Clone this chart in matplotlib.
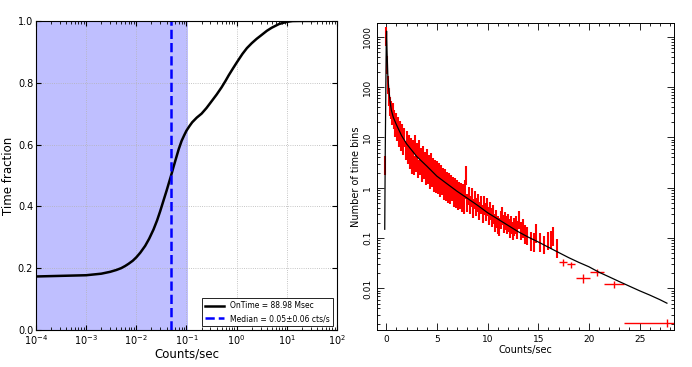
import numpy as np
import matplotlib
matplotlib.use("Agg")
import matplotlib.pyplot as plt
from matplotlib.ticker import FixedLocator, NullFormatter, LogLocator, MultipleLocator

# cumulative time fraction vs count rate (left panel)
cdf_rate = [1e-4, 1e-3, 2e-3, 3e-3, 4e-3, 5e-3, 6e-3, 7e-3, 8.5e-3, 1e-2, 1.2e-2, 1.5e-2,
            1.8e-2, 2.2e-2, 2.6e-2, 3e-2, 3.5e-2, 4e-2, 4.5e-2, 5e-2, 5.5e-2, 6e-2, 7e-2,
            8e-2, 9e-2, 0.1, 0.115, 0.13, 0.16, 0.2, 0.25, 0.3, 0.4, 0.5, 0.6, 0.7, 0.85,
            1.0, 1.3, 1.6, 2, 2.5, 3, 4, 5, 7, 10, 13, 20, 35]
cdf_frac = [0.173, 0.177, 0.182, 0.188, 0.194, 0.200, 0.207, 0.214, 0.224, 0.235, 0.25, 0.272,
            0.295, 0.325, 0.355, 0.385, 0.42, 0.45, 0.478, 0.503, 0.527, 0.548, 0.585,
            0.612, 0.63, 0.645, 0.66, 0.672, 0.687, 0.70, 0.718, 0.735, 0.762, 0.785, 0.806,
            0.825, 0.847, 0.865, 0.893, 0.912, 0.928, 0.942, 0.952, 0.968, 0.978, 0.99,
            0.997, 0.9995, 1.0, 1.0]
median_rate = 0.05
shade_max = 0.105
ontime_label = "OnTime = 88.98 Msec"
median_label = "Median = 0.05\u00b10.06 cts/s"

# histogram of rates (right panel)
hist_x = [-0.1, 0.0, 0.1, 0.2,
          0.3, 0.4, 0.5, 0.6, 0.7, 0.8, 0.9, 1.0, 1.1, 1.2, 1.3, 1.4, 1.5, 1.6, 1.7, 1.8,
          1.9, 2.0, 2.1, 2.2, 2.3, 2.4, 2.5, 2.6, 2.7, 2.8, 2.9, 3.0, 3.1, 3.2, 3.3, 3.4,
          3.5, 3.6, 3.7, 3.8, 3.9, 4.0, 4.1, 4.2, 4.3, 4.4, 4.5, 4.6, 4.7, 4.8, 4.9, 5.0,
          5.1, 5.2, 5.3, 5.4, 5.5, 5.6, 5.7, 5.8, 5.9, 6.0, 6.1, 6.2, 6.3, 6.4, 6.5, 6.6,
          6.7, 6.8, 6.9, 7.0, 7.1, 7.2, 7.3, 7.4, 7.5, 7.6, 7.7, 7.8, 7.9, 8.0,
          8.15, 8.3, 8.45, 8.6, 8.75, 8.9, 9.05, 9.2, 9.35, 9.5, 9.65, 9.8, 9.95, 10.1,
          10.25, 10.4, 10.55, 10.7, 10.85, 11.0, 11.15, 11.3, 11.45, 11.6, 11.75, 11.9,
          12.05, 12.2, 12.35, 12.5, 12.65, 12.8, 12.95, 13.1, 13.3, 13.5, 13.7, 13.9,
          14.3, 14.6, 14.8, 15.2, 15.6, 16.0, 16.3, 16.5, 16.9]
hist_y = [3.0, 1100, 300, 120,
          70, 45, 38, 30, 34, 25, 17, 22, 14, 18, 11, 15, 9, 13, 7.5, 11,
          6, 9.5, 5, 8, 4, 7, 3.2, 6.5, 3, 8, 3.5, 5.5, 2.6, 6.5, 3, 4.5,
          2.2, 4.8, 2.5, 3.6, 1.9, 4.2, 2.0, 3.2, 1.6, 3.5, 1.7, 2.8, 1.4, 2.6, 1.3, 2.4,
          1.25, 2.2, 1.1, 2.0, 1.2, 1.8, 0.95, 1.7, 0.9, 1.5, 0.85, 1.4, 0.8, 1.3, 0.9, 1.15,
          0.7, 1.1, 0.65, 1.0, 0.6, 0.95, 0.62, 0.9, 0.55, 0.85, 0.5, 1.0, 1.9, 0.55,
          0.75, 0.5, 0.7, 0.42, 0.62, 0.45, 0.55, 0.38, 0.5, 0.33, 0.48, 0.36, 0.45, 0.3,
          0.38, 0.28, 0.32, 0.22, 0.26, 0.2, 0.18, 0.25, 0.3, 0.21, 0.24, 0.2,
          0.22, 0.17, 0.2, 0.15, 0.18, 0.2, 0.16, 0.25, 0.15, 0.17, 0.13, 0.12,
          0.093, 0.09, 0.136, 0.09, 0.08, 0.095, 0.1, 0.117, 0.068]
hist_relerr = 0.4
hist_halfwidth = 0.06

# wide bins in the tail
tail_x = [17.4, 18.2, 19.4, 20.8, 22.5, 27.7]
tail_y = [0.033, 0.030, 0.016, 0.021, 0.012, 0.0021]
tail_xerr = [0.4, 0.4, 0.7, 0.7, 1.0, 4.2]
tail_yerr = [0.005, 0.004, 0.003, 0.003, 0.002, 0.0004]

# model curve
model_x = [-0.15, -0.1, 0.0, 0.03, 0.08, 0.15, 0.25, 0.4, 0.5, 0.7, 1.0, 1.5, 2.0, 3.0,
           4.0, 5.0, 6.0, 7.0, 8.0, 9.0, 10, 11, 12, 13, 14, 15, 16, 17, 18, 19, 20, 21,
           22, 23, 24, 25, 26, 27, 27.7]
model_y = [0.15, 5, 800, 1300, 500, 180, 90, 48, 35, 25, 18, 11, 7.5, 4.2,
           2.7, 1.7, 1.2, 0.85, 0.62, 0.45, 0.32, 0.24, 0.18, 0.135, 0.105, 0.084, 0.066,
           0.052, 0.041, 0.033, 0.027, 0.021, 0.017, 0.0137, 0.0111, 0.0090, 0.0074,
           0.0060, 0.0051]

fig = plt.figure(figsize=(6.92, 3.67), dpi=100)

# ---- left panel
ax1 = fig.add_axes([0.052, 0.101, 0.435, 0.842])
ax1.axvspan(1e-4, shade_max, color="b", alpha=0.25, lw=0)
ax1.plot(cdf_rate, cdf_frac, color="k", lw=1.8, label=ontime_label)
ax1.axvline(median_rate, color="b", ls="--", lw=1.8, label=median_label)
ax1.set_xscale("log")
ax1.set_xlim(1e-4, 1e2)
ax1.set_ylim(0, 1)
ax1.grid(True, ls=":", color="0.7", lw=0.6)
ax1.tick_params(direction="in", which="both", labelsize=7, top=True, right=True, pad=2)
ax1.xaxis.set_major_locator(LogLocator(base=10, numticks=10))
ax1.xaxis.set_minor_locator(LogLocator(base=10, subs=np.arange(2, 10), numticks=20))
ax1.xaxis.set_minor_formatter(NullFormatter())
ax1.set_yticks([0, 0.2, 0.4, 0.6, 0.8, 1.0])
ax1.set_xlabel("Counts/sec", fontsize=8.5, labelpad=1)
ax1.set_ylabel("Time fraction", fontsize=8.5, labelpad=2)
leg = ax1.legend(loc="lower right", fontsize=5.5, fancybox=False, framealpha=1,
                 edgecolor="k", handlelength=2.5)
leg.get_frame().set_linewidth(0.6)

# ---- right panel
ax2 = fig.add_axes([0.545, 0.101, 0.429, 0.836])
hx = np.array(hist_x)
hy = np.array(hist_y)
ax2.errorbar(hx, hy, xerr=hist_halfwidth, yerr=hist_relerr * hy, fmt="none",
             ecolor="red", elinewidth=1.5, capsize=0)
ax2.errorbar(tail_x, tail_y, xerr=tail_xerr, yerr=tail_yerr, fmt="none",
             ecolor="red", elinewidth=1.0, capsize=0)
ax2.plot(model_x, model_y, color="k", lw=0.9)
ax2.set_yscale("log")
ax2.set_xlim(-0.9, 28.4)
ax2.set_ylim(0.0015, 1870)
ax2.xaxis.set_major_locator(MultipleLocator(5))
ax2.xaxis.set_minor_locator(MultipleLocator(1))
ax2.yaxis.set_major_locator(FixedLocator([0.01, 0.1, 1, 10, 100, 1000]))
ax2.set_yticklabels(["0.01", "0.1", "1", "10", "100", "1000"], rotation=90, va="center")
ax2.yaxis.set_minor_locator(LogLocator(base=10, subs=np.arange(2, 10), numticks=20))
ax2.yaxis.set_minor_formatter(NullFormatter())
ax2.tick_params(direction="in", which="both", top=True, right=True, labelsize=6.5,
                width=0.6)
ax2.tick_params(which="major", length=5)
ax2.tick_params(which="minor", length=2.5)
for s in ax2.spines.values():
    s.set_linewidth(0.7)
ax2.set_xlabel("Counts/sec", fontsize=7, labelpad=1)
ax2.set_ylabel("Number of time bins", fontsize=7, labelpad=2)

fig.savefig("out.png", dpi=100)
